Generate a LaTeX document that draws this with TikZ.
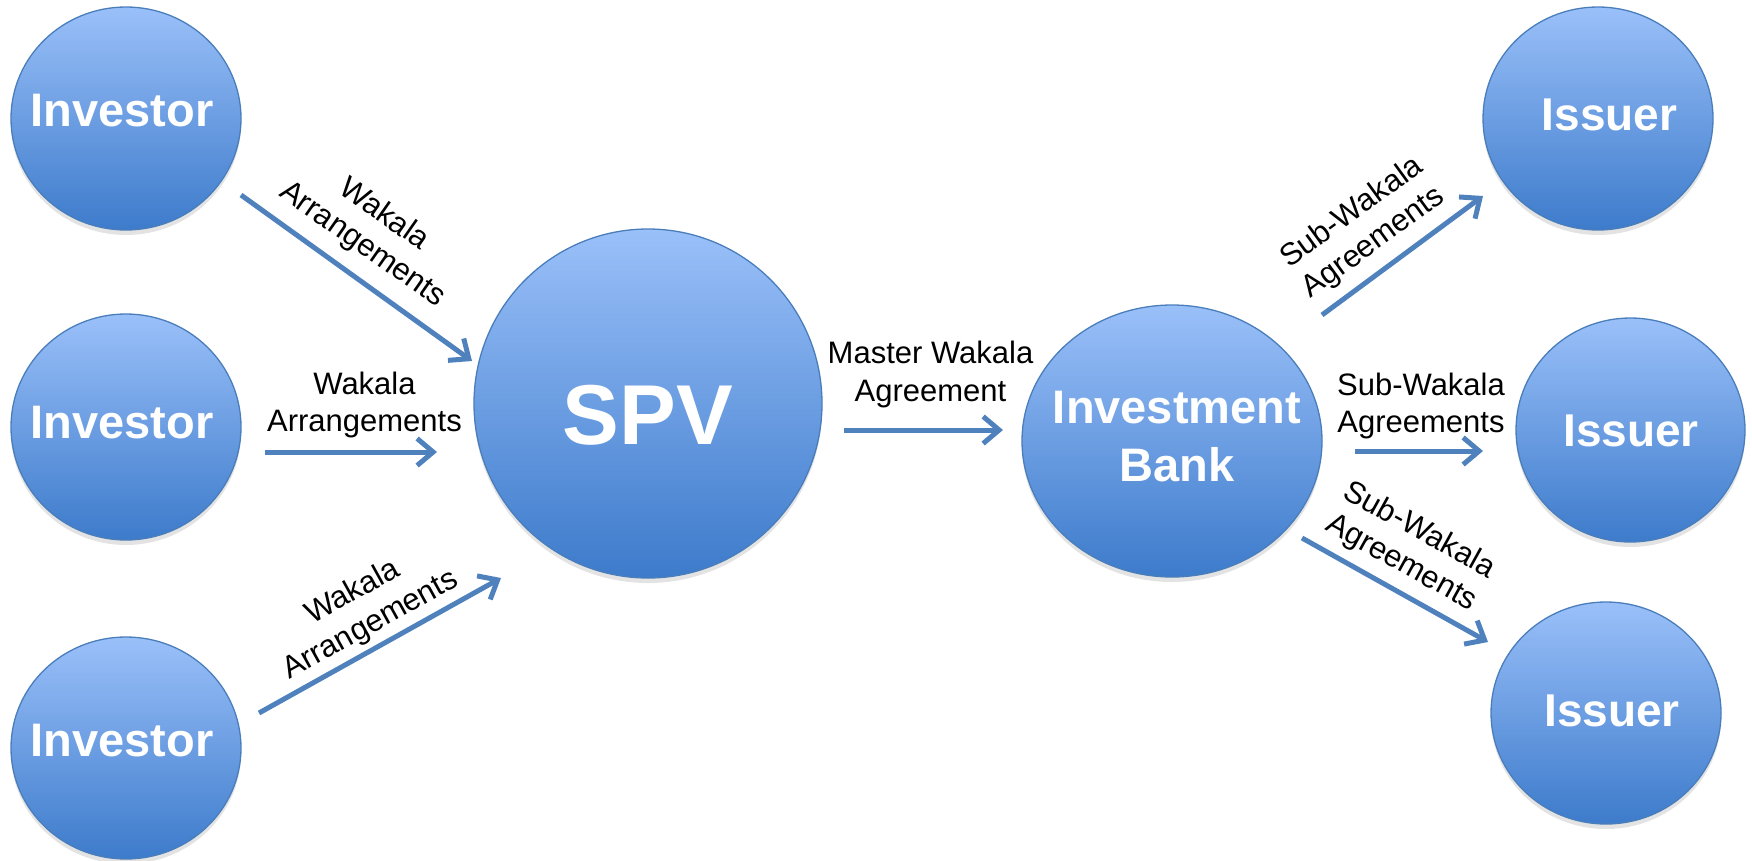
\documentclass[tikz,border=0pt]{standalone}
\usepackage{fontspec}
\setmainfont{Liberation Sans}
\usetikzlibrary{shapes.geometric,arrows.meta,shadows}
\definecolor{topcol}{HTML}{9AC0F9}
\definecolor{botcol}{HTML}{3D7BCB}
\definecolor{bordercol}{HTML}{4A7EBB}
\definecolor{arrowcol}{HTML}{4F81BD}
\tikzset{
  bubble/.style={ellipse, draw=bordercol, line width=1.3pt, top color=topcol, bottom color=botcol,
    inner sep=0pt,
    drop shadow={opacity=0.22, shadow xshift=0pt, shadow yshift=-5pt}},
  bubtext/.style={text=white, inner sep=0pt, align=center},
  flow/.style={draw=arrowcol, line width=5pt, -{Straight Barb[length=16pt,width=27pt]}},
  lab/.style={font=\fontsize{31}{37}\selectfont, align=center, inner sep=0pt},
}
\begin{document}
\begin{tikzpicture}[x=1pt,y=-1pt]
\useasboundingbox (0,0) rectangle (1752,860);
% circles
\node[bubble, minimum width=230pt, minimum height=223pt] (inv1) at (126,118.5) {};
\node[bubble, minimum width=230pt, minimum height=226pt] (inv2) at (126,427) {};
\node[bubble, minimum width=230pt, minimum height=222pt] (inv3) at (126,748) {};
\node[bubble, minimum width=348pt, minimum height=349pt] (spv) at (648,403.5) {};
\node[bubble, minimum width=300pt, minimum height=272pt] (ib) at (1172,441) {};
\node[bubble, minimum width=230pt, minimum height=223pt] (iss1) at (1598,118.5) {};
\node[bubble, minimum width=229pt, minimum height=224pt] (iss2) at (1630.5,430) {};
\node[bubble, minimum width=230pt, minimum height=222pt] (iss3) at (1606,713) {};
% texts in circles
\node[bubtext, font=\bfseries\fontsize{47}{56}\selectfont] (inv1t) at (122,110.5) {Investor};
\node[bubtext, font=\bfseries\fontsize{47}{56}\selectfont] (inv2t) at (122,422.5) {Investor};
\node[bubtext, font=\bfseries\fontsize{47}{56}\selectfont] (inv3t) at (122,740.5) {Investor};
\node[bubtext, font=\bfseries\fontsize{85}{95}\selectfont] (spvt) at (648,415) {SPV};
\node[bubtext, font=\bfseries\fontsize{47}{58}\selectfont] (ibt) at (1177,437) {Investment\\Bank};
\node[bubtext, font=\bfseries\fontsize{46}{56}\selectfont] (iss1t) at (1609.5,114.5) {Issuer};
\node[bubtext, font=\bfseries\fontsize{46}{56}\selectfont] (iss2t) at (1631,430.5) {Issuer};
\node[bubtext, font=\bfseries\fontsize{46}{56}\selectfont] (iss3t) at (1612,710.5) {Issuer};
% arrow end points
\coordinate (a1s) at (241,195);
\coordinate (a1e) at (472,361);
\coordinate (a2s) at (265,452);
\coordinate (a2e) at (437,452);
\coordinate (a3s) at (259,713);
\coordinate (a3e) at (501,578);
\coordinate (a4s) at (844,430);
\coordinate (a4e) at (1003,430);
\coordinate (a5s) at (1322,315);
\coordinate (a5e) at (1483,196);
\coordinate (a6s) at (1355,451);
\coordinate (a6e) at (1483,451);
\coordinate (a7s) at (1302,538);
\coordinate (a7e) at (1488,642);
\draw[flow] (a1s) -- (a1e);
\draw[flow] (a2s) -- (a2e);
\draw[flow] (a3s) -- (a3e);
\draw[flow] (a4s) -- (a4e);
\draw[flow] (a5s) -- (a5e);
\draw[flow] (a6s) -- (a6e);
\draw[flow] (a7s) -- (a7e);
% labels
\node[lab, rotate=-35] (l1) at (373,230) {Wakala\\Arrangements};
\node[lab] (l2) at (364.5,405) {Wakala\\Arrangements};
\node[lab, rotate=29] (l3) at (362,609) {Wakala\\Arrangements};
\node[lab, font=\fontsize{31}{38}\selectfont] (l4) at (930.5,374) {Master Wakala\\Agreement};
\node[lab, rotate=36] (l5) at (1363,228) {Sub-Wakala\\Agreements};
\node[lab] (l6) at (1421,406) {Sub-Wakala\\Agreements};
\node[lab, rotate=-29] (l7) at (1410,547) {Sub-Wakala\\Agreements};
\end{tikzpicture}
\end{document}
